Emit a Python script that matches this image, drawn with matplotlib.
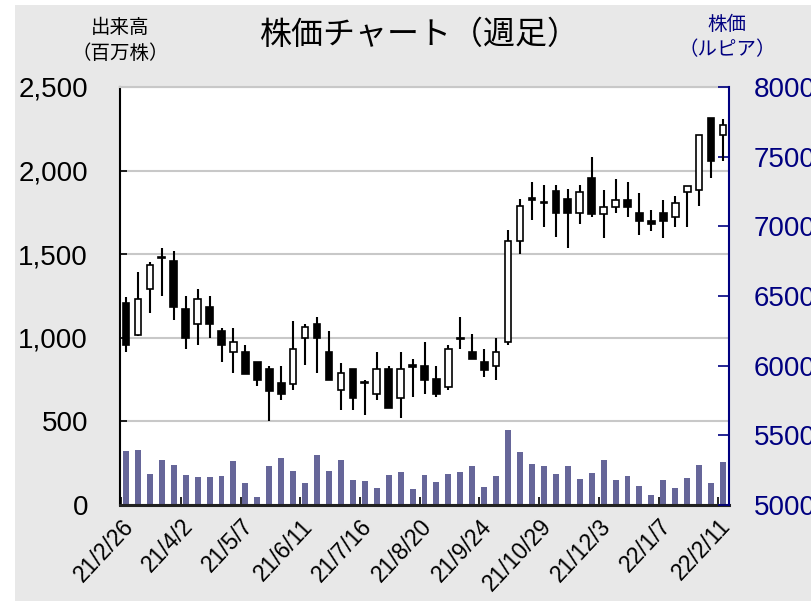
import numpy as np
import matplotlib
matplotlib.use("Agg")
import matplotlib.pyplot as plt
from matplotlib.patches import Rectangle

plt.rcParams['font.family'] = ['Liberation Sans', 'Noto Sans CJK JP', 'DejaVu Sans']

# weekly OHLC (rupiah) and volume (million shares)
opens = [6452, 6222, 6550, 6775, 6752, 6404, 6296, 6423, 6248, 6097,
         6097, 6025, 5974, 5876, 5871, 6198, 6296, 6099, 5823, 5974,
         5880, 5799, 5974, 5770, 5996, 5998, 5902, 5847, 6195, 6099,
         6027, 5996, 6171, 6896, 7196, 7172, 7251, 7198, 7095, 7345,
         7088, 7141, 7191, 7093, 7040, 7093, 7064, 7244, 7263, 7777, 7652]
closes = [6147, 6476, 6723, 6770, 6418, 6195, 6476, 6296, 6147, 6171,
          5943, 5895, 5821, 5797, 6123, 6274, 6198, 5895, 5950, 5770,
          5876, 5974, 5696, 5974, 5992, 5895, 5794, 6123, 6190, 6046,
          5967, 6099, 6896, 7148, 7190, 7168, 7095, 7095, 7246, 7088,
          7141, 7191, 7141, 7040, 7016, 7040, 7167, 7292, 7652, 7467, 7724]
highs = [6495, 6675, 6747, 6848, 6824, 6500, 6550, 6500, 6272, 6272,
         6147, 6025, 5998, 5998, 6320, 6296, 6351, 6248, 6022, 5974,
         5895, 6099, 5998, 6099, 6046, 6171, 5998, 6147, 6351, 6224,
         6123, 6195, 6975, 7198, 7320, 7295, 7295, 7265, 7295, 7496,
         7263, 7340, 7316, 7239, 7117, 7189, 7215, 7292, 7652, 7777, 7772]
lows = [6099, 6215, 6375, 6500, 6327, 6123, 6147, 6200, 6027, 5948,
        5943, 5852, 5600, 5751, 5823, 6003, 5948, 5895, 5679, 5679,
        5648, 5751, 5696, 5624, 5775, 5799, 5775, 5823, 6123, 6046,
        5919, 5895, 6147, 6800, 7045, 6995, 6920, 6845, 7020, 7069,
        6915, 7093, 7069, 6939, 6968, 6915, 6992, 6992, 7143, 7345, 7472]
volumes = [323, 329, 187, 270, 242, 181, 165, 165, 173, 262,
           131, 48, 234, 282, 206, 131, 298, 206, 270, 151,
           145, 103, 181, 198, 95, 181, 137, 184, 196, 234,
           107, 173, 446, 315, 248, 234, 184, 234, 157, 190,
           268, 149, 173, 115, 60, 149, 101, 163, 240, 131, 260]
date_labels = ['21/2/26', '21/4/2', '21/5/7', '21/6/11', '21/7/16', '21/8/20',
               '21/9/24', '21/10/29', '21/12/3', '22/1/7', '22/2/11']

vol_ticks = [0, 500, 1000, 1500, 2000, 2500]
vol_labels = ['0', '500', '1,000', '1,500', '2,000', '2,500']
price_ticks = [5000, 5500, 6000, 6500, 7000, 7500, 8000]

navy = '#000080'
bg = '#e8e8e8'

fig = plt.figure(figsize=(8.11, 6.11), dpi=100)
fig.patch.set_facecolor('white')
fig.patches.append(Rectangle((15/811, 1-601/611), 1, 596/611, transform=fig.transFigure,
                             facecolor=bg, edgecolor='none', zorder=-10))

ax = fig.add_axes([120/811, 1-505/611, 609/811, 418/611])
ax.set_facecolor('white')
x = np.arange(len(volumes))

ax.bar(x, volumes, width=0.5, color='#666699', zorder=2)
ax.set_ylim(0, 2500)
ax.set_xlim(-0.5, len(volumes) - 0.5)
ax.set_yticks(vol_ticks)
ax.set_yticklabels(vol_labels)
ax.yaxis.grid(True, color='#c8c8c8', linewidth=1.5, zorder=0)
ax.set_axisbelow(True)
ax.tick_params(axis='y', direction='in', length=5, width=1.2, labelsize=20, pad=23)

# date ticks every 5 weeks
tick_pos = x[::5] - 0.4
ax.set_xticks(tick_pos)
ax.set_xticklabels(date_labels, rotation=47, ha='right', va='top', rotation_mode='anchor', fontsize=16.5)
ax.tick_params(axis='x', direction='in', length=6, width=1.2, pad=7)

ax.spines['left'].set_color('black')
ax.spines['left'].set_linewidth(1.5)
ax.spines['bottom'].set_color('#222222')
ax.spines['bottom'].set_linewidth(2.2)
ax.spines['top'].set_color('#c8c8c8')
ax.spines['top'].set_linewidth(1.5)
ax.spines['right'].set_visible(False)

ax2 = ax.twinx()
ax2.set_ylim(5000, 8000)
ax2.set_yticks(price_ticks)
ax2.tick_params(axis='y', direction='in', length=8, width=1.2, colors=navy, labelsize=20, pad=18)
ax2.spines['right'].set_color(navy)
ax2.spines['right'].set_linewidth(1.5)
for s in ['left', 'top', 'bottom']:
    ax2.spines[s].set_visible(False)

o = np.array(opens)
c = np.array(closes)
ax2.vlines(x, lows, highs, color='black', linewidth=1.5, zorder=3)
up = c >= o
bottoms = np.minimum(o, c)
heights = np.maximum(np.abs(c - o), 10)
ax2.bar(x[up], heights[up], bottom=bottoms[up], width=0.56, facecolor='white',
        edgecolor='black', linewidth=1.2, zorder=4)
ax2.bar(x[~up], heights[~up], bottom=bottoms[~up], width=0.56, facecolor='black',
        edgecolor='black', linewidth=1.2, zorder=4)

fig.text(420/811, 1-36/611, '株価チャート（週足）', ha='center', va='center', fontsize=23)
fig.text(120/811, 1-28/611, '出来高', ha='center', va='center', fontsize=14)
fig.text(120/811, 1-54/611, '（百万株）', ha='center', va='center', fontsize=14)
fig.text(727/811, 1-25/611, '株価', ha='center', va='center', fontsize=14, color=navy)
fig.text(727/811, 1-50/611, '（ルピア）', ha='center', va='center', fontsize=14, color=navy)

fig.savefig('out.png', dpi=100)
